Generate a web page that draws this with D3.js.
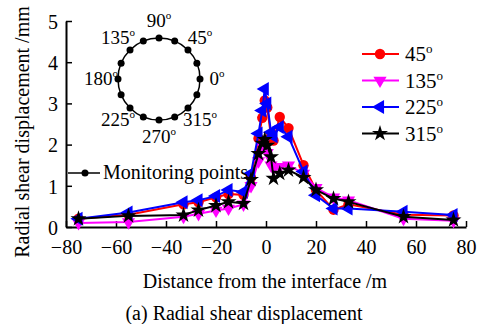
<!DOCTYPE html>
<html>
<head>
<meta charset="utf-8">
<script src="https://cdn.jsdelivr.net/npm/d3@7"></script>
<style>
  body { margin: 0; background: #fff; }
</style>
</head>
<body>
<div id="chart"></div>
<script>
  const distances = [-75, -55, -33, -27, -20, -15, -9, -6, -3, -1.5, -0.5, 0.5, 2, 3, 5.5, 9, 15, 20, 27, 33, 55, 75];
  const deg45 = [0.2, 0.3, 0.55, 0.6, 0.72, 0.8, 0.78, 1.2, 2.15, 2.65, 3.07, 2.9, 2.2, 2.1, 2.67, 2.4, 1.5, 0.9, 0.42, 0.55, 0.3, 0.28];
  const deg135 = [0.1, 0.12, 0.25, 0.32, 0.4, 0.45, 0.55, 1.0, 1.6, 1.95, 2.1, 1.8, 1.5, 1.42, 1.46, 1.5, 1.3, 0.95, 0.72, 0.65, 0.2, 0.15];
  const deg225 = [0.2, 0.35, 0.6, 0.65, 0.75, 0.9, 0.85, 1.3, 2.27, 2.83, 3.35, 3.0, 2.3, 2.2, 2.43, 2.19, 1.35, 0.77, 0.45, 0.45, 0.37, 0.29];
  const deg315 = [0.2, 0.27, 0.29, 0.41, 0.52, 0.61, 0.57, 1.15, 1.78, 2.03, 2.12, 1.98, 1.7, 1.18, 1.3, 1.38, 1.2, 0.9, 0.69, 0.61, 0.25, 0.17];
  const xTicks = [-80, -60, -40, -20, 0, 20, 40, 60, 80];
  const yTicks = [0, 1, 2, 3, 4, 5];
  const insetLabels = [
    { a: 90, t: "90" }, { a: 45, t: "45" }, { a: 0, t: "0" }, { a: 315, t: "315" },
    { a: 270, t: "270" }, { a: 225, t: "225" }, { a: 180, t: "180" }, { a: 135, t: "135" }
  ];

  const series = [
    { name: "45", values: deg45, color: "#ff0000", shape: "circle" },
    { name: "135", values: deg135, color: "#ff00ff", shape: "down" },
    { name: "225", values: deg225, color: "#0000ff", shape: "left" },
    { name: "315", values: deg315, color: "#000000", shape: "star" }
  ];

  const serif = "\"Liberation Serif\", \"Times New Roman\", Times, \"DejaVu Serif\", serif";
  const width = 479, height = 324;
  const margin = { top: 21, right: 13, bottom: 97, left: 66 };
  const svg = d3.select("#chart").append("svg")
    .attr("width", width).attr("height", height);

  const x = d3.scaleLinear().domain([-80, 80]).range([margin.left, width - margin.right]);
  const y = d3.scaleLinear().domain([0, 5]).range([height - margin.bottom, margin.top]);

  // axes, ticks point into the plot
  const xAxis = svg.append("g")
    .attr("transform", `translate(0,${y(0)})`)
    .call(d3.axisBottom(x).tickValues(xTicks).tickSizeInner(-6).tickSizeOuter(0)
      .tickFormat(d => d < 0 ? "\u2212" + Math.abs(d) : d));
  xAxis.attr("font-family", serif).attr("font-size", 20);
  xAxis.select(".domain").attr("stroke-width", 2);
  xAxis.selectAll(".tick line").attr("stroke-width", 1.5);
  xAxis.selectAll(".tick text").attr("y", 13).attr("dy", "0.71em");

  const yAxis = svg.append("g")
    .attr("transform", `translate(${x(-80)},0)`)
    .call(d3.axisLeft(y).tickValues(yTicks).tickSizeInner(-6).tickSizeOuter(0).tickFormat(d3.format("d")));
  yAxis.attr("font-family", serif).attr("font-size", 20);
  yAxis.select(".domain").attr("stroke-width", 2);
  yAxis.selectAll(".tick line").attr("stroke-width", 1.5);
  yAxis.selectAll(".tick text").attr("x", -8).attr("dy", "0.36em");

  function label(sel) {
    return sel.attr("font-family", serif).attr("fill", "#000");
  }

  label(svg.append("text"))
    .attr("transform", "translate(29,132) rotate(-90)")
    .attr("text-anchor", "middle").attr("font-size", 20)
    .text("Radial shear displacement /mm");
  label(svg.append("text"))
    .attr("x", 265).attr("y", 288).attr("text-anchor", "middle").attr("font-size", 20)
    .text("Distance from the interface /m");
  label(svg.append("text"))
    .attr("x", 244).attr("y", 320).attr("text-anchor", "middle").attr("font-size", 20)
    .text("(a) Radial shear displacement");

  // marker shapes
  const symbolFor = {
    circle: d3.symbol().type(d3.symbolCircle).size(85),
    down: d3.symbol().type(d3.symbolTriangle).size(75),
    left: d3.symbol().type(d3.symbolTriangle).size(85),
    star: d3.symbol().type(d3.symbolStar).size(80)
  };
  const rotFor = { circle: 0, down: 180, left: -90, star: 0 };

  const line = d3.line().x(d => x(d[0])).y(d => y(d[1]));

  series.forEach(s => {
    const pts = distances.map((dx, i) => [dx, s.values[i]]);
    const g = svg.append("g");
    g.append("path").datum(pts).attr("d", line)
      .attr("fill", "none").attr("stroke", s.color).attr("stroke-width", 2);
    g.selectAll("path.m").data(pts).enter().append("path").attr("class", "m")
      .attr("d", symbolFor[s.shape])
      .attr("transform", d => `translate(${x(d[0])},${y(d[1])}) rotate(${rotFor[s.shape]})`)
      .attr("fill", s.color);
  });

  // legend
  const legend = svg.append("g");
  series.forEach((s, i) => {
    const ly = 54 + i * 26.5;
    legend.append("line").attr("x1", 362).attr("x2", 399).attr("y1", ly).attr("y2", ly)
      .attr("stroke", s.color).attr("stroke-width", 2);
    legend.append("path").attr("d", symbolFor[s.shape])
      .attr("transform", `translate(380,${ly}) rotate(${rotFor[s.shape]})`)
      .attr("fill", s.color);
    const t = label(legend.append("text")).attr("x", 405).attr("y", ly + 7).attr("font-size", 21);
    t.append("tspan").text(s.name);
    t.append("tspan").attr("font-size", 13).attr("dy", -8).text("o");
  });

  // inset: monitoring points around the section
  const cx = 159, cy = 79, r = 41;
  const inset = svg.append("g");
  inset.append("circle").attr("cx", cx).attr("cy", cy).attr("r", r)
    .attr("fill", "none").attr("stroke", "#000").attr("stroke-width", 1.5);
  const angles = d3.range(16).map(i => i * 22.5);
  inset.selectAll("circle.pt").data(angles).enter().append("circle").attr("class", "pt")
    .attr("cx", a => cx + r * Math.cos(a * Math.PI / 180))
    .attr("cy", a => cy - r * Math.sin(a * Math.PI / 180))
    .attr("r", 3.5).attr("fill", "#000");
  insetLabels.forEach(l => {
    const rad = l.a * Math.PI / 180;
    const lr = 58;
    const tx = cx + lr * Math.cos(rad);
    const ty = cy - lr * Math.sin(rad);
    const t = label(inset.append("text")).attr("x", tx).attr("y", ty + 6)
      .attr("text-anchor", "middle").attr("font-size", 19);
    t.append("tspan").text(l.t);
    t.append("tspan").attr("font-size", 11).attr("dy", -8).text("o");
  });

  // monitoring points legend
  svg.append("line").attr("x1", 68).attr("x2", 100).attr("y1", 173).attr("y2", 173)
    .attr("stroke", "#000").attr("stroke-width", 1.5);
  svg.append("circle").attr("cx", 85).attr("cy", 173).attr("r", 3.5).attr("fill", "#000");
  label(svg.append("text")).attr("x", 103).attr("y", 179).attr("font-size", 20).text("Monitoring points");
</script>
</body>
</html>
